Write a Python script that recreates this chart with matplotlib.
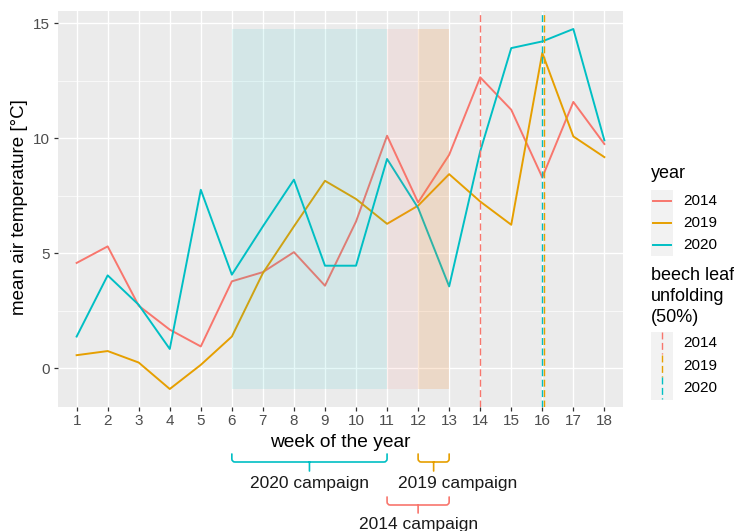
import numpy as np
import matplotlib
matplotlib.use("Agg")
import matplotlib.pyplot as plt
from matplotlib.path import Path
from matplotlib.patches import PathPatch, Rectangle
from matplotlib.lines import Line2D
from matplotlib.transforms import Affine2D

plt.rcParams['font.family'] = ['Liberation Sans', 'DejaVu Sans']

# weekly mean air temperature per year
weeks = list(range(1, 19))
years = ['2014', '2019', '2020']
temp_2014 = [4.57, 5.29, 2.71, 1.67, 0.94, 3.77, 4.17, 5.04, 3.58, 6.37,
             10.10, 7.20, 9.27, 12.64, 11.23, 8.29, 11.57, 9.74]
temp_2019 = [0.56, 0.74, 0.24, -0.91, 0.14, 1.37, 4.13, 6.16, 8.14, 7.35,
             6.27, 7.06, 8.43, 7.24, 6.23, 13.70, 10.07, 9.17]
temp_2020 = [1.37, 4.03, 2.75, 0.83, 7.75, 4.06, 6.16, 8.19, 4.45, 4.45,
             9.09, 6.96, 3.55, 9.42, 13.91, 14.20, 14.74, 9.90]
series = {'2014': temp_2014, '2019': temp_2019, '2020': temp_2020}

# week of 50% beech leaf unfolding
unfolding_week = {'2014': 14.0, '2019': 16.07, '2020': 16.0}

# field campaigns (start week, end week)
campaign_years = ['2020', '2014', '2019']
campaign_start = [6, 11, 12]
campaign_end = [11, 13, 13]

colors = {'2014': '#F8766D', '2019': '#E69F00', '2020': '#00BFC4'}

W, H = 734, 531
fig = plt.figure(figsize=(W / 100, H / 100), dpi=100)
ax = fig.add_axes([58 / W, 1 - 407 / H, (623 - 58) / W, (407 - 11) / H])
ax.set_facecolor('#EBEBEB')
for s in ax.spines.values():
    s.set_visible(False)

all_vals = np.concatenate([temp_2014, temp_2019, temp_2020])
ymin, ymax = all_vals.min(), all_vals.max()
rng = ymax - ymin
ax.set_xlim(0.4, 18.6)
ax.set_ylim(ymin - 0.05 * rng, ymax + 0.05 * rng)

ax.set_xticks(weeks)
ax.set_yticks([0, 5, 10, 15])
ax.set_yticks([2.5, 7.5, 12.5], minor=True)
ax.grid(which='major', color='white', lw=1.0)
ax.grid(which='minor', axis='y', color='white', lw=0.5)
ax.set_axisbelow(True)
ax.tick_params(axis='both', which='major', length=2.9, width=0.9, color='#333333',
               labelcolor='#4D4D4D', labelsize=11)
ax.tick_params(axis='x', pad=2.2)
ax.tick_params(axis='y', pad=2.9)
ax.tick_params(which='minor', length=0)

for yr in years:
    ax.plot(weeks, series[yr], color=colors[yr], lw=1.4, zorder=3)

# campaign shading over the lines
for yr, a, b in zip(campaign_years, campaign_start, campaign_end):
    ax.add_patch(Rectangle((a, ymin), b - a, ymax - ymin, facecolor=colors[yr],
                           alpha=0.1, edgecolor='none', zorder=4))

for yr in years:
    ax.axvline(unfolding_week[yr], color=colors[yr], lw=1.0,
               linestyle=(0, (5, 2.5)), zorder=5)

fig.text(20 / W, 1 - 207 / H, 'mean air temperature [°C]', rotation=90,
         ha='center', va='center', fontsize=13.5)
fig.text(340.5 / W, 1 - 447 / H, 'week of the year', ha='center',
         va='baseline', fontsize=13.75)

# campaign braces below the axis
ptrans = ax.get_xaxis_transform()


def frac(py):
    return (407 - py) / 396


def brace(x0, x1, top, yh, tip, color):
    rx, ry = 0.1, 0.008
    xm = (x0 + x1) / 2
    t, h, p = frac(top), frac(yh), frac(tip)
    verts = [(x0, t), (x0, h + ry), (x0, h), (x0 + rx, h), (x1 - rx, h),
             (x1, h), (x1, h + ry), (x1, t), (xm, h), (xm, p)]
    codes = [Path.MOVETO, Path.LINETO, Path.CURVE3, Path.CURVE3, Path.LINETO,
             Path.CURVE3, Path.CURVE3, Path.LINETO, Path.MOVETO, Path.LINETO]
    ax.add_patch(PathPatch(Path(verts, codes), transform=ptrans, fill=False,
                           edgecolor=color, lw=1.2, clip_on=False,
                           capstyle='round', joinstyle='round'))


brace_rows = {'2020': (454, 462, 471), '2019': (454, 462, 471), '2014': (497, 505, 513)}
label_pos = {'2020': (None, 488), '2019': (13.27, 488), '2014': (None, 529.5)}
for yr, a, b in zip(campaign_years, campaign_start, campaign_end):
    top, yh, tip = brace_rows[yr]
    brace(a, b, top, yh, tip, colors[yr])
    lx, ly = label_pos[yr]
    if lx is None:
        lx = (a + b) / 2
    ax.text(lx, frac(ly), f'{yr} campaign', transform=ptrans, ha='center',
            va='baseline', fontsize=12.5, color='#1A1A1A', clip_on=False)

# legends
pix = Affine2D().scale(1 / W, -1 / H).translate(0, 1) + fig.transFigure
fig.text(651 / W, 1 - 173 / H, 'year', ha='left', va='center', fontsize=13)
fig.add_artist(Rectangle((651, 190), 22, 66, transform=pix,
                         facecolor='#F2F2F2', edgecolor='none'))
for i, yr in enumerate(years):
    yc = 201 + 22 * i
    fig.add_artist(Line2D([653, 671], [yc, yc], transform=pix,
                          color=colors[yr], lw=1.4))
    fig.text(683 / W, 1 - yc / H, yr, ha='left', va='center', fontsize=11)

for j, line in enumerate(['beech leaf', 'unfolding', '(50%)']):
    fig.text(651 / W, 1 - (275 + 21.5 * j) / H, line, ha='left', va='center',
             fontsize=13)
fig.add_artist(Rectangle((651, 332), 22, 67.5, transform=pix,
                         facecolor='#F2F2F2', edgecolor='none'))
for i, yr in enumerate(years):
    yc = 343 + 22.5 * i
    fig.add_artist(Line2D([662, 662], [yc - 11, yc + 11], transform=pix,
                          color=colors[yr], lw=1.0, linestyle=(0, (5, 2.5))))
    fig.text(683 / W, 1 - yc / H, yr, ha='left', va='center', fontsize=11)

fig.savefig('out.png', dpi=100)
